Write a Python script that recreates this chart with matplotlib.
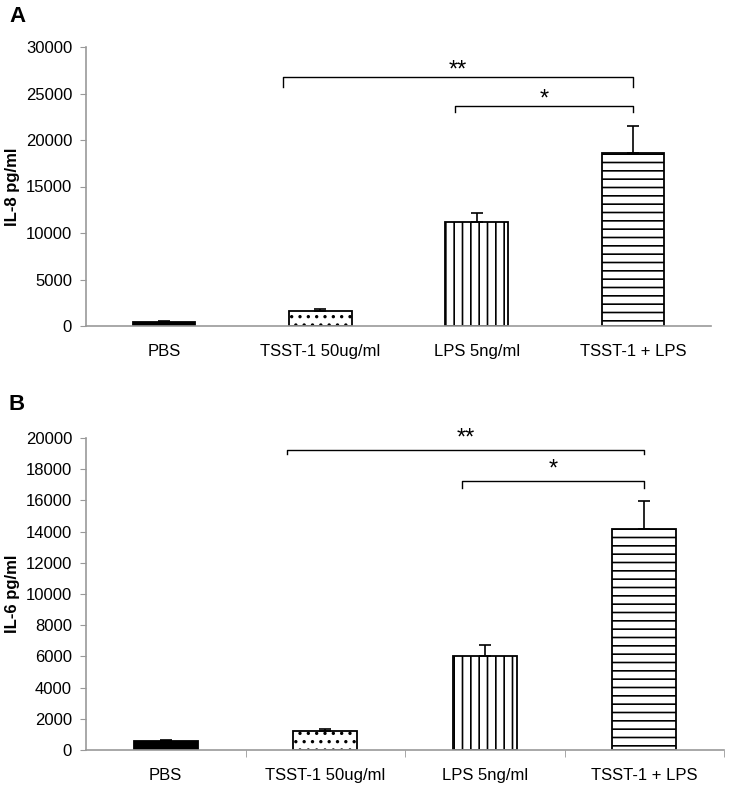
import matplotlib
matplotlib.use("Agg")
import matplotlib.pyplot as plt
import numpy as np

plt.rcParams['font.family'] = ['Liberation Sans', 'DejaVu Sans']
plt.rcParams['hatch.linewidth'] = 1.2

categories = ["PBS", "TSST-1 50ug/ml", "LPS 5ng/ml", "TSST-1 + LPS"]

il8_values = [420, 1650, 11200, 18550]
il8_errors = [120, 200, 1000, 3000]
il8_ticks = [0, 5000, 10000, 15000, 20000, 25000, 30000]

il6_values = [600, 1250, 6050, 14150]
il6_errors = [60, 80, 650, 1800]
il6_ticks = list(range(0, 20001, 2000))

hatches = [None, "..", "||", "--"]
faces = ["black", "white", "white", "white"]

# significance brackets: (x_left, x_right, y_line, leg_left, leg_right, text_y, label)
il8_brackets = [(0.76, 3.0, 26800, 25700, 25700, 27500, "**"),
                (1.86, 3.0, 23650, 23000, 23000, 24300, "*")]
il6_brackets = [(0.76, 3.0, 19250, 19000, 19000, 19950, "**"),
                (1.86, 3.0, 17250, 16800, 16800, 17950, "*")]

W, H = 729, 789
fig = plt.figure(figsize=(W / 100, H / 100), dpi=100)


def panel(rect, values, errors, ticks, ymax, ylabel, brackets, xticks_marks, letter, letter_y, ylabel_y):
    ax = fig.add_axes(rect)
    x = np.arange(len(categories))
    for i in range(len(categories)):
        ax.bar(x[i], values[i], width=0.4, color=faces[i], edgecolor="black",
               linewidth=1.3, hatch=hatches[i], zorder=2)
    ax.errorbar(x, values, yerr=[np.zeros(len(values)), errors], fmt="none",
                ecolor="black", elinewidth=1.2, capsize=4, capthick=1.2, zorder=3)
    ax.set_xlim(-0.5, 3.5)
    ax.set_ylim(0, ymax)
    ax.set_yticks(ticks)
    ax.set_yticklabels([str(t) for t in ticks], fontsize=12)
    ax.set_xticks(x)
    ax.set_xticklabels(categories, fontsize=12)
    ax.tick_params(axis="x", length=0, pad=13)
    ax.tick_params(axis="y", length=4, color="#999999", pad=6)
    if xticks_marks:
        ax.set_xticks([0.5, 1.5, 2.5, 3.5], minor=True)
        ax.tick_params(axis="x", which="minor", length=5, color="#999999")
    for s in ["top", "right"]:
        ax.spines[s].set_visible(False)
    for s in ["left", "bottom"]:
        ax.spines[s].set_color("#999999")
        ax.spines[s].set_linewidth(1.2)
    for (xl, xr, yl, ll, lr, ty, lab) in brackets:
        ax.plot([xl, xl, xr, xr], [ll, yl, yl, lr], color="black", lw=1.0,
                clip_on=False, zorder=4)
        ax.text((xl + xr) / 2, ty, lab, ha="center", va="center", fontsize=17,
                clip_on=False)
    fig.text(12 / W, 1 - ylabel_y / H, ylabel, rotation=90, ha="center",
             va="center", fontsize=12, fontweight="bold")
    fig.text(9 / W, 1 - letter_y / H, letter, ha="left", va="center",
             fontsize=16, fontweight="bold")
    return ax


panel([86 / W, 1 - 326 / H, 625 / W, 279 / H], il8_values, il8_errors, il8_ticks,
      30000, "IL-8 pg/ml", il8_brackets, False, "A", 17, 187)
panel([86 / W, 1 - 750 / H, 638 / W, 312 / H], il6_values, il6_errors, il6_ticks,
      20000, "IL-6 pg/ml", il6_brackets, True, "B", 405, 594)

fig.savefig("out.png", dpi=100)
